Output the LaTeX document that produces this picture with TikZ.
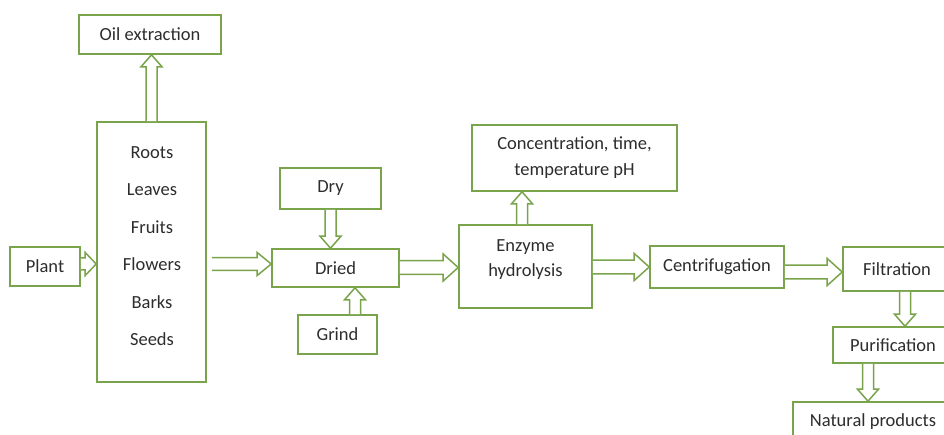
\documentclass[tikz,border=0pt]{standalone}
\usepackage{fontspec}
\setmainfont{Carlito}
\usetikzlibrary{calc}
\definecolor{grn}{RGB}{122,164,76}
\definecolor{txt}{RGB}{45,45,45}
\tikzset{
  box/.style={draw=grn, line width=1.6pt, fill=white, rectangle, inner sep=0pt, text=txt, font=\fontsize{18.5}{22}\selectfont, align=center},
  lbl/.style={text=txt, font=\fontsize{18.5}{22}\selectfont, align=center, inner sep=0pt},
  arr/.style={draw=grn, line width=1.5pt, fill=white, line join=miter}
}
% horizontal block arrow: #1 shaft half-width, #2 head half-width, #3 head length, from #4 to #5 (same y)
\newcommand{\harrow}[5]{\path[arr] let \p1=#4, \p2=#5 in
  (\x1,\y1+#1) -- (\x2-#3,\y1+#1) -- (\x2-#3,\y1+#2) -- (\x2,\y1) -- (\x2-#3,\y1-#2) -- (\x2-#3,\y1-#1) -- (\x1,\y1-#1);}
% vertical block arrow: from #1 to #2 (same x)
\newcommand{\varrow}[2]{\path[arr] let \p1=#1, \p2=#2, \n1={ifthenelse(\y2>\y1,1,-1)} in
  (\x1+5.5pt,\y1) -- (\x1+5.5pt,\y2-\n1*12pt) -- (\x1+10.5pt,\y2-\n1*12pt) -- (\x1,\y2) -- (\x1-10.5pt,\y2-\n1*12pt) -- (\x1-5.5pt,\y2-\n1*12pt) -- (\x1-5.5pt,\y1);}
\begin{document}
\begin{tikzpicture}[x=1pt,y=-1pt]
\useasboundingbox (0,0) rectangle (944,435);
\clip (0,0) rectangle (944,435);
\fill[white] (0,0) rectangle (944,435);

\node[box, minimum width=142, minimum height=39] (oil) at (150,34.5) {Oil extraction};
\node[box, minimum width=109, minimum height=260] (big) at (151.5,252) {};
\node[lbl, font=\fontsize{18.5}{37.5}\selectfont] (parts) at (152,246) {Roots\\Leaves\\Fruits\\Flowers\\Barks\\Seeds};
\node[box, minimum width=70, minimum height=39] (plant) at (45,266.5) {Plant};
\node[box, minimum width=101, minimum height=41] (dry) at (330.5,188.5) {Dry};
\node[box, minimum width=127, minimum height=38] (dried) at (335.5,268) {Dried};
\node[box, minimum width=79, minimum height=39] (grind) at (337.5,334.5) {Grind};
\node[box, minimum width=205, minimum height=66, font=\fontsize{18.5}{26}\selectfont] (conc) at (574.5,158) {Concentration, time,\\temperature pH};
\node[box, minimum width=133, minimum height=83] (enz) at (525.5,266.5) {};
\node[lbl, font=\fontsize{18.5}{25}\selectfont] (enzt) at (525.5,260) {Enzyme\\hydrolysis};
\node[box, minimum width=134, minimum height=42] (cent) at (717,267) {Centrifugation};
\node[box, minimum width=108, minimum height=44] (filt) at (897,269) {Filtration};
\node[box, minimum width=120, minimum height=36] (puri) at (893,345) {Purification};
\node[box, minimum width=160, minimum height=40] (nat) at (873,422) {Natural products};

% arrows
\varrow{(big.north)}{(oil.south -| big.north)}
\harrow{6pt}{11.5pt}{11pt}{(plant.east |- 0,264)}{(big.west |- 0,264)}
\harrow{6.3pt}{11.5pt}{14pt}{([xshift=5pt]big.east |- 0,264)}{(dried.west |- 0,264)}
\varrow{(dry.south)}{(dried.north -| dry.south)}
\varrow{(grind.north -| 355,0)}{(dried.south -| 355,0)}
\harrow{6.8pt}{13.5pt}{15pt}{(dried.east |- 0,267.5)}{(enz.west |- 0,267.5)}
\varrow{(enz.north -| 522,0)}{(conc.south -| 522,0)}
\harrow{6.8pt}{13.5pt}{15pt}{(enz.east |- 0,267)}{(cent.west |- 0,267)}
\harrow{6.8pt}{13.5pt}{15pt}{(cent.east |- 0,272)}{(filt.west |- 0,272)}
\varrow{(filt.south -| 905,0)}{(puri.north -| 905,0)}
\varrow{(puri.south -| 868,0)}{(nat.north -| 868,0)}
\end{tikzpicture}
\end{document}
